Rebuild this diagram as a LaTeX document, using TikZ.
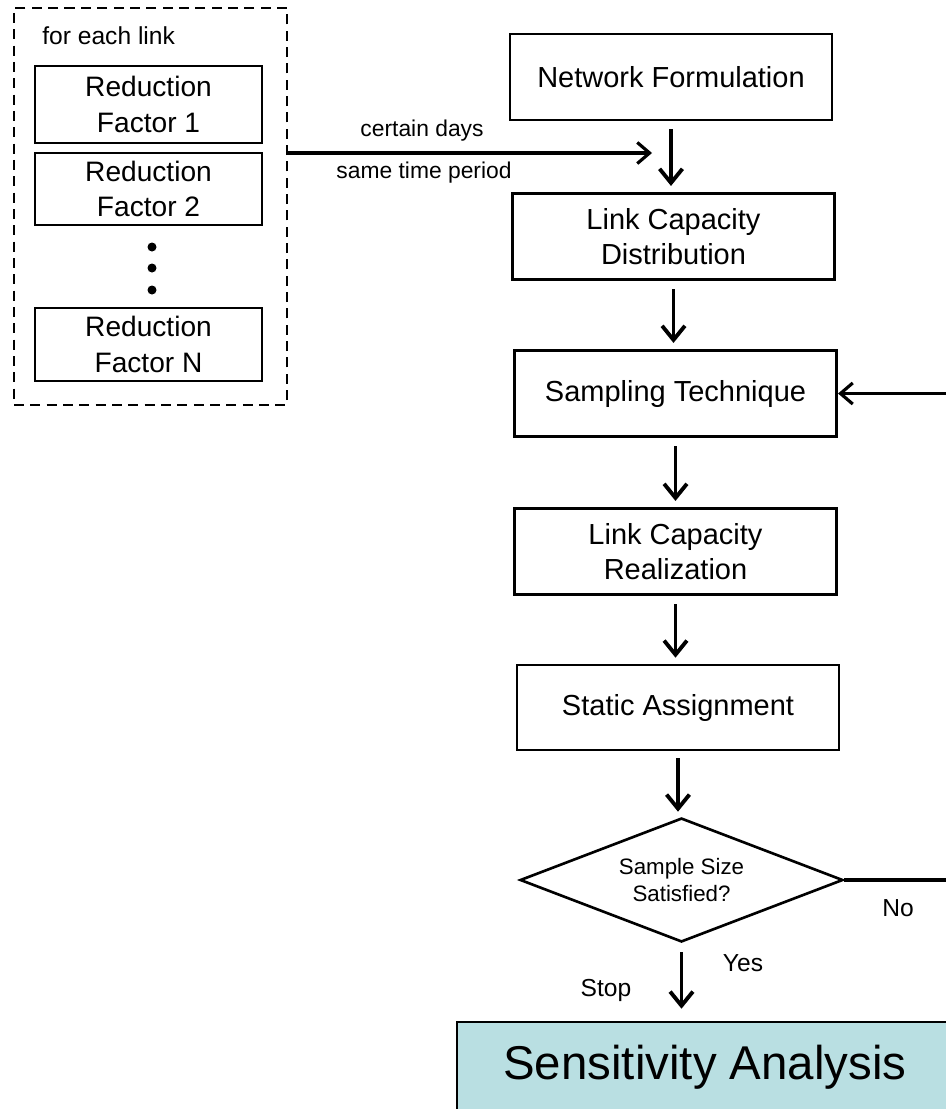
\documentclass[tikz,border=0pt]{standalone}
\usepackage{fontspec}
\setmainfont{Liberation Sans}
\usetikzlibrary{shapes.geometric,arrows.meta}
\definecolor{sensblue}{HTML}{B9DFE2}
\tikzset{
  box/.style={draw, line width=1.5pt, align=center, inner sep=0pt,
    font=\fontsize{16.5}{19.8}\selectfont},
  mainbox/.style={box, minimum width=6.45cm, minimum height=1.73cm},
  rfbox/.style={draw, line width=1.5pt, align=center, inner sep=0pt,
    minimum width=4.54cm, font=\fontsize{16}{20.4}\selectfont},
  lbl/.style={inner sep=0pt, font=\fontsize{13}{15}\selectfont},
  lblb/.style={inner sep=0pt, font=\fontsize{14}{16}\selectfont},
  arr/.style={line width=2.2pt, -{Straight Barb[length=8pt,width=13pt,line width=2.2pt]}},
  harr/.style={line width=1.8pt, -{Straight Barb[length=7pt,width=12pt,line width=1.8pt]}},
  flowarr/.style={arr, shorten <=0.16cm, shorten >=0.12cm},
}
\begin{document}
\begin{tikzpicture}[x=0.02cm,y=-0.02cm]
\useasboundingbox (0,0) rectangle (946,1109);
\clip (0,0) rectangle (946,1109);

% left dashed group
\node[draw, line width=1.5pt, dash pattern=on 5.7pt off 3.6pt,
      minimum width=5.46cm, minimum height=7.94cm, inner sep=0pt] (grp) at (150.5,206.5) {};
\node[lblb, anchor=west] (each) at (42,36) {for each link};
\node[rfbox, minimum height=1.54cm] (rf1) at (148.5,104.5) {Reduction\\Factor 1};
\node[rfbox, minimum height=1.44cm] (rf2) at (148.5,189) {Reduction\\Factor 2};
\node[rfbox, minimum height=1.46cm] (rfn) at (148.5,344.5) {Reduction\\Factor N};
\fill (152,247) circle[radius=0.09cm];
\fill (152,268) circle[radius=0.09cm];
\fill (152,290) circle[radius=0.09cm];

% main column
\node[mainbox, minimum width=6.44cm, minimum height=1.72cm] (nf) at (671,77) {Network Formulation};
\node[mainbox] (lcd) at (673.5,236.5) {Link Capacity\\Distribution};
\node[mainbox] (st) at (675.5,393.5) {Sampling Technique};
\node[mainbox] (lcr) at (675.5,551.5) {Link Capacity\\Realization};
\node[mainbox, minimum width=6.44cm, minimum height=1.70cm] (sa) at (678,707.5) {Static Assignment};
\node[draw, diamond, aspect=2.6, line width=1.5pt, inner sep=0pt, align=center,
      minimum width=6.46cm, minimum height=2.48cm,
      font=\fontsize{12.7}{15.3}\selectfont] (dia) at (681.5,880) {Sample Size\\Satisfied?};
\node[draw, line width=1.5pt, fill=sensblue, inner sep=0pt,
      minimum width=9.92cm, minimum height=1.8cm,
      font=\fontsize{27}{30}\selectfont] (sens) at (705,1067) {Sensitivity Analysis};

% connectors
\coordinate (join) at (652,153);
\draw[harr] (grp.east |- join) -- (join);
\node[lbl] (cd) at (422,131) {certain days};
\node[lbl] (stp) at (424,173) {same time period};

\draw[flowarr] (nf.south) -- (nf.south |- lcd.north);
\draw[flowarr] (lcd.south) -- (lcd.south |- st.north);
\draw[flowarr] (st.south) -- (st.south |- lcr.north);
\draw[flowarr] (lcr.south) -- (lcr.south |- sa.north);
\draw[arr, shorten <=0.14cm, shorten >=0.1cm] (sa.south) -- (sa.south |- dia.north);
\draw[arr, shorten <=0.18cm, shorten >=0.24cm] (dia.south) -- (sens.north -| dia.south);

\coordinate (rt) at (952,880);
\draw[harr] (dia.east) -- (rt) |- (st.east);

\node[lblb] (no) at (898,908) {No};
\node[lblb] (yes) at (743,963) {Yes};
\node[lblb] (stop) at (606,990) {Stop};
\end{tikzpicture}
\end{document}
